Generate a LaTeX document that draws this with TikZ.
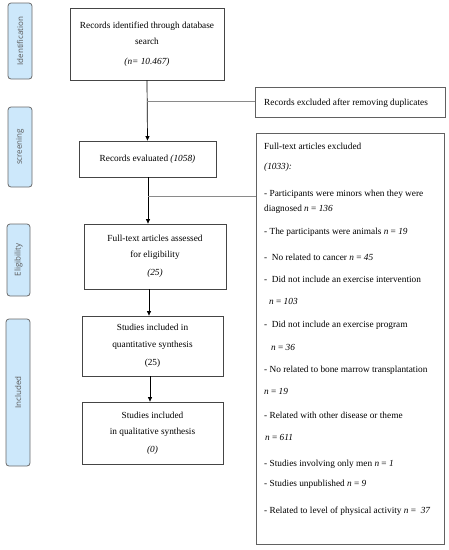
\documentclass[tikz,border=0pt]{standalone}
\usepackage{fontspec}
\setmainfont{Liberation Serif}
\newfontfamily\sidefont{Open Sans}
\usetikzlibrary{arrows.meta}
\definecolor{sidefill}{HTML}{CDE8FB}
\definecolor{sidedraw}{HTML}{6A6A6A}
\definecolor{boxdraw}{HTML}{454545}
\definecolor{branch}{HTML}{8A8A8A}
\begin{document}
\begin{tikzpicture}[x=1pt,y=-1pt,
  side/.style={draw=sidedraw,line width=0.8pt,fill=sidefill,rounded corners=3pt,inner sep=0pt},
  sidetext/.style={rotate=90,font=\sidefont\fontsize{8}{9}\selectfont,text=black!65},
  flowbox/.style={draw=boxdraw,line width=0.8pt,inner sep=0pt,align=center,font=\fontsize{9.3}{16.5}\selectfont},
  txt/.style={anchor=base west,inner sep=0pt,font=\fontsize{9.3}{10}\selectfont},
  arr/.style={-{Triangle[length=4.5pt,width=4pt]},line width=0.7pt,black},
  br/.style={draw=branch,line width=0.6pt}]
\useasboundingbox (0,0) rectangle (449,550);
% side labels
\node[side,minimum width=24pt,minimum height=76pt] (s1) at (20,41) {};
\node[sidetext] (s1t) at (s1.center) {Identification};
\node[side,minimum width=24pt,minimum height=80pt] (s2) at (20,147) {};
\node[sidetext] (s2t) at (s2.center) {screening};
\node[side,minimum width=23pt,minimum height=72pt] (s3) at (18.5,260) {};
\node[sidetext] (s3t) at (s3.center) {Eligibility};
\node[side,minimum width=24pt,minimum height=147pt] (s4) at (18,392.5) {};
\node[sidetext] (s4t) at (s4.center) {Included};
% main boxes
\node[flowbox,minimum width=154pt,minimum height=72pt] (b1) at (147,44)
  {Records identified through database\\search\\[3pt]\textit{(n= 10.467)}};
\node[flowbox,minimum width=137pt,minimum height=36pt] (b2) at (147.5,159)
  {Records evaluated \textit{(1058)}};
\node[flowbox,minimum width=142pt,minimum height=65pt] (b3) at (155,256.5)
  {Full-text articles assessed\\for eligibility\\[1.5pt]\textit{(25)}};
\node[flowbox,minimum width=141pt,minimum height=60pt] (b4) at (152.5,346)
  {Studies included in\\quantitative synthesis\\[1.5pt](25)};
\node[flowbox,minimum width=141pt,minimum height=62pt] (b5) at (152.5,433)
  {Studies included\\in qualitative synthesis\\[1pt]\textit{(0)}};
% right boxes
\node[flowbox,draw=boxdraw!85,minimum width=190pt,minimum height=30pt] (rex) at (350,102) {};
\node[txt] (rext) at (264,105) {Records excluded after removing duplicates};
\node[flowbox,draw=boxdraw!85,minimum width=188pt,minimum height=411pt] (ftx) at (350,338.5) {};
\node[txt] (f1) at (264,149) {Full-text articles excluded};
\node[txt] (f2) at (264,169) {\textit{(1033):}};
\node[txt] (f3) at (264,196) {- Participants were minors when they were};
\node[txt] (f4) at (264,211) {diagnosed \textit{n} = \textit{136}};
\node[txt] (f5) at (264,234) {- The participants were animals \textit{n} = \textit{19}};
\node[txt] (f6) at (264,260) {-\ \ No related to cancer \textit{n} = \textit{45}};
\node[txt] (f7) at (264,282) {-\ \ Did not include an exercise intervention};
\node[txt] (f8) at (269,304) {\textit{n} = \textit{103}};
\node[txt] (f9) at (264,327) {-\ \ Did not include an exercise program};
\node[txt] (f10) at (271,350) {\textit{n} = \textit{36}};
\node[txt] (f11) at (264,372) {- No related to bone marrow transplantation};
\node[txt] (f12) at (264,394) {\textit{n} = \textit{19}};
\node[txt] (f13) at (264,418) {- Related with other disease or theme};
\node[txt] (f14) at (265,440) {\textit{n} = \textit{611}};
\node[txt] (f15) at (264,466) {- Studies involving only men \textit{n} = \textit{1}};
\node[txt] (f16) at (264,486) {- Studies unpublished \textit{n} = \textit{9}};
\node[txt] (f17) at (264,513) {- Related to level of physical activity \textit{n} = \ \textit{37}};
% connectors
\draw[arr] (b1.south) -- (b2.north);
\coordinate (j1) at (147,101);
\draw[br] (j1) -- (j1 -| rex.west);
\coordinate (a2) at (148,177);
\draw[arr] (a2) -- (a2 |- b3.north);
\coordinate (j2) at (148,196);
\draw[br] (j2) -- (j2 -| ftx.west);
\coordinate (a3) at (149,289);
\draw[arr] (a3) -- (a3 |- b4.north);
\coordinate (a4) at (150,376);
\draw[arr] (a4) -- (a4 |- b5.north);
\end{tikzpicture}
\end{document}
